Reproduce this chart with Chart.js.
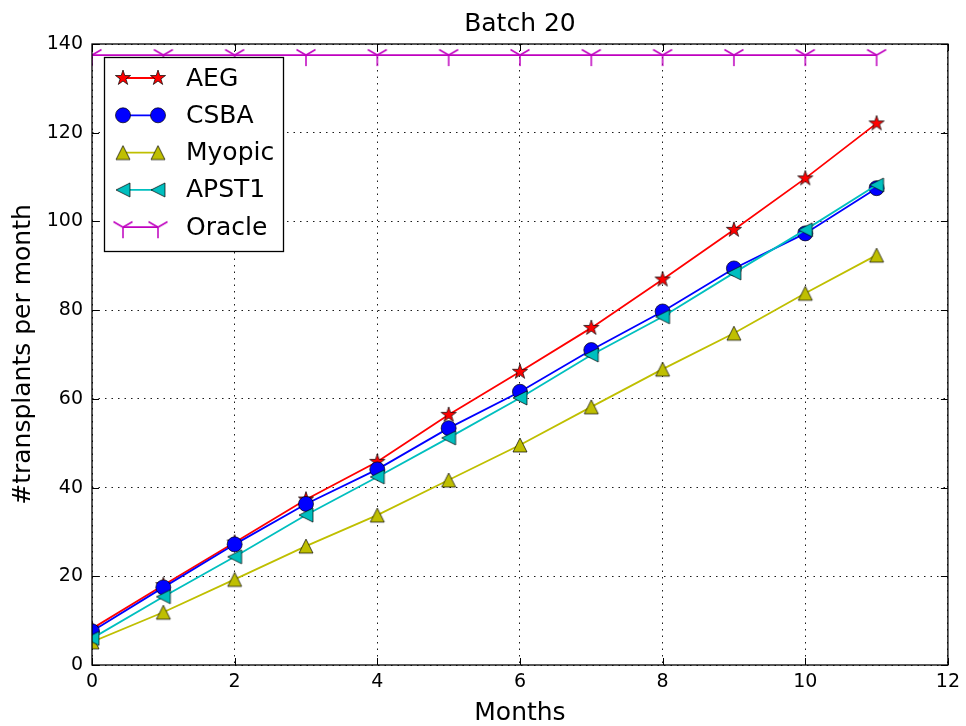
<!DOCTYPE html>
<html>
<head>
<meta charset="utf-8">
<script src="https://cdn.jsdelivr.net/npm/chart.js@4/dist/chart.umd.min.js"></script>
<style>
  html, body { margin: 0; padding: 0; background: #fff; }
  #wrap { width: 966px; height: 726px; }
</style>
</head>
<body>
<div id="wrap"><canvas id="graphic" width="966" height="726"></canvas></div>
<script>
// ==========================================================================
// DATA
// ==========================================================================
const months = [0, 1, 2, 3, 4, 5, 6, 7, 8, 9, 10, 11];
const aeg    = [8.2, 18.0, 27.6, 37.3, 45.8, 56.4, 66.1, 76.0, 86.9, 98.1, 109.7, 122.1];
const csba   = [7.6, 17.5, 27.2, 36.3, 44.1, 53.4, 61.6, 71.0, 79.7, 89.4, 97.3, 107.5];
const myopic = [5.2, 11.9, 19.3, 26.8, 33.8, 41.7, 49.6, 58.2, 66.7, 74.8, 83.8, 92.4];
const apst1  = [6.0, 15.4, 24.4, 33.8, 42.4, 51.2, 60.2, 69.9, 78.5, 88.4, 98.1, 108.2];
const oracle = [137.5, 137.5, 137.5, 137.5, 137.5, 137.5, 137.5, 137.5, 137.5, 137.5, 137.5, 137.5];
const xTicks = [0, 2, 4, 6, 8, 10, 12];
const yTicks = [0, 20, 40, 60, 80, 100, 120, 140];

const FONT = "'DejaVu Sans', 'Liberation Sans', sans-serif";

// ==========================================================================
// MARKERS (matplotlib look)
// ==========================================================================
function marker(size, draw) {
  const c = document.createElement('canvas');
  c.width = size; c.height = size;
  const g = c.getContext('2d');
  g.translate(size / 2, size / 2);
  draw(g);
  return c;
}

function poly(g, pts, fill) {
  g.beginPath();
  pts.forEach((p, i) => i ? g.lineTo(p[0], p[1]) : g.moveTo(p[0], p[1]));
  g.closePath();
  g.fillStyle = fill;
  g.fill();
  g.strokeStyle = '#000';
  g.lineWidth = 0.7;
  g.stroke();
}

const starImg = marker(20, g => {
  const pts = [];
  for (let i = 0; i < 10; i++) {
    const r = i % 2 ? 8 * 0.382 : 8;
    const a = -Math.PI / 2 + i * Math.PI / 5;
    pts.push([r * Math.cos(a), r * Math.sin(a)]);
  }
  poly(g, pts, '#ff0000');
});
const triUpImg = marker(18, g => poly(g, [[0, -7], [-7, 7], [7, 7]], '#bfbf00'));
const triLeftImg = marker(18, g => poly(g, [[-7, 0], [7, -7], [7, 7]], '#00bfbf'));
const triDownImg = marker(26, g => {
  g.strokeStyle = '#bf00bf';
  g.lineWidth = 1.5;
  g.beginPath();
  g.moveTo(0, 0); g.lineTo(0, 11);
  g.moveTo(0, 0); g.lineTo(-9.5, -5.5);
  g.moveTo(0, 0); g.lineTo(9.5, -5.5);
  g.stroke();
});

function pts(vals) {
  return months.map((m, i) => ({ x: m, y: vals[i] }));
}

const series = [
  { label: 'AEG',    data: aeg,    color: '#ff0000', style: starImg },
  { label: 'CSBA',   data: csba,   color: '#0000ff', style: 'circle' },
  { label: 'Myopic', data: myopic, color: '#bfbf00', style: triUpImg },
  { label: 'APST1',  data: apst1,  color: '#00bfbf', style: triLeftImg },
  { label: 'Oracle', data: oracle, color: '#bf00bf', style: triDownImg },
];

// ==========================================================================
// PLUGINS: frame with inward ticks, legend box
// ==========================================================================
const framePlugin = {
  id: 'frame',
  afterDatasetsDraw(chart) {
    const { ctx, chartArea: a, scales } = chart;
    ctx.save();
    ctx.strokeStyle = '#000';
    ctx.lineWidth = 1.3;
    ctx.strokeRect(a.left, a.top, a.right - a.left, a.bottom - a.top);
    ctx.lineWidth = 1;
    ctx.beginPath();
    xTicks.forEach(t => {
      const x = Math.round(scales.x.getPixelForValue(t)) + 0.5;
      ctx.moveTo(x, a.bottom); ctx.lineTo(x, a.bottom - 7);
      ctx.moveTo(x, a.top); ctx.lineTo(x, a.top + 7);
    });
    yTicks.forEach(t => {
      const y = Math.round(scales.y.getPixelForValue(t)) + 0.5;
      ctx.moveTo(a.left, y); ctx.lineTo(a.left + 7, y);
      ctx.moveTo(a.right, y); ctx.lineTo(a.right - 7, y);
    });
    ctx.stroke();
    ctx.restore();
  }
};

const legendPlugin = {
  id: 'boxLegend',
  afterDraw(chart) {
    const { ctx } = chart;
    const box = { x: 104.5, y: 57.5, w: 179, h: 194 };
    ctx.save();
    ctx.fillStyle = '#fff';
    ctx.fillRect(box.x, box.y, box.w, box.h);
    ctx.strokeStyle = '#000';
    ctx.lineWidth = 1.3;
    ctx.strokeRect(box.x, box.y, box.w, box.h);
    ctx.font = '25px ' + FONT;
    ctx.textBaseline = 'middle';
    series.forEach((s, i) => {
      const y = 78 + i * 37.3;
      const x1 = 123, x2 = 158;
      ctx.strokeStyle = s.color;
      ctx.lineWidth = 1.8;
      ctx.beginPath();
      ctx.moveTo(x1, y); ctx.lineTo(x2, y);
      ctx.stroke();
      [x1, x2].forEach(x => {
        if (s.style === 'circle') {
          ctx.beginPath();
          ctx.arc(x, y, 7.5, 0, Math.PI * 2);
          ctx.fillStyle = s.color;
          ctx.fill();
          ctx.strokeStyle = '#000';
          ctx.lineWidth = 0.7;
          ctx.stroke();
        } else {
          ctx.drawImage(s.style, x - s.style.width / 2, y - s.style.height / 2);
        }
      });
      ctx.fillStyle = '#000';
      ctx.fillText(s.label, 186, y + 1);
    });
    ctx.restore();
  }
};

// ==========================================================================
// CHART
// ==========================================================================
const datasets = series.map((s, i) => ({
  label: s.label,
  data: pts(s.data),
  borderColor: s.color,
  backgroundColor: s.color,
  borderWidth: 1.8,
  pointStyle: s.style,
  pointRadius: 7.5,
  pointBorderColor: '#000',
  pointBorderWidth: 0.7,
  pointBackgroundColor: s.color,
  tension: 0,
  order: series.length - i
}));

let ctx = document.getElementById('graphic').getContext('2d');
let myChart = new Chart(ctx, {
  type: 'line',
  data: { datasets: datasets },
  options: {
    responsive: false,
    animation: false,
    layout: { padding: { left: 0, right: 16, top: 0, bottom: 0 } },
    plugins: {
      legend: { display: false },
      tooltip: { enabled: false },
      title: {
        display: true,
        text: 'Batch 20',
        fullSize: false,
        color: '#000',
        font: { family: FONT, size: 25, weight: 'normal', lineHeight: 1 },
        padding: { top: 12, bottom: 7 }
      }
    },
    scales: {
      x: {
        type: 'linear',
        min: 0, max: 12,
        afterFit: s => { s.height = 61; },
        afterBuildTicks: s => { s.ticks = xTicks.map(v => ({ value: v })); },
        ticks: { color: '#000', padding: 6, font: { family: FONT, size: 19 }, maxRotation: 0 },
        grid: { color: '#000', lineWidth: 0.9, drawTicks: false },
        border: { display: false, dash: [1.5, 5] },
        title: {
          display: true, text: 'Months', color: '#000',
          font: { family: FONT, size: 25, lineHeight: 1 },
          padding: { top: 0, bottom: 0 }
        }
      },
      y: {
        min: 0, max: 140,
        afterFit: s => { s.width = 92; },
        afterBuildTicks: s => { s.ticks = yTicks.map(v => ({ value: v })); },
        ticks: { color: '#000', padding: 9, font: { family: FONT, size: 19 } },
        grid: { color: '#000', lineWidth: 0.9, drawTicks: false },
        border: { display: false, dash: [1.5, 5] },
        title: {
          display: true, text: '#transplants per month', color: '#000',
          font: { family: FONT, size: 25, lineHeight: 1 },
          padding: { top: 11, bottom: 0 }
        }
      }
    }
  },
  plugins: [framePlugin, legendPlugin]
});
</script>
</body>
</html>
